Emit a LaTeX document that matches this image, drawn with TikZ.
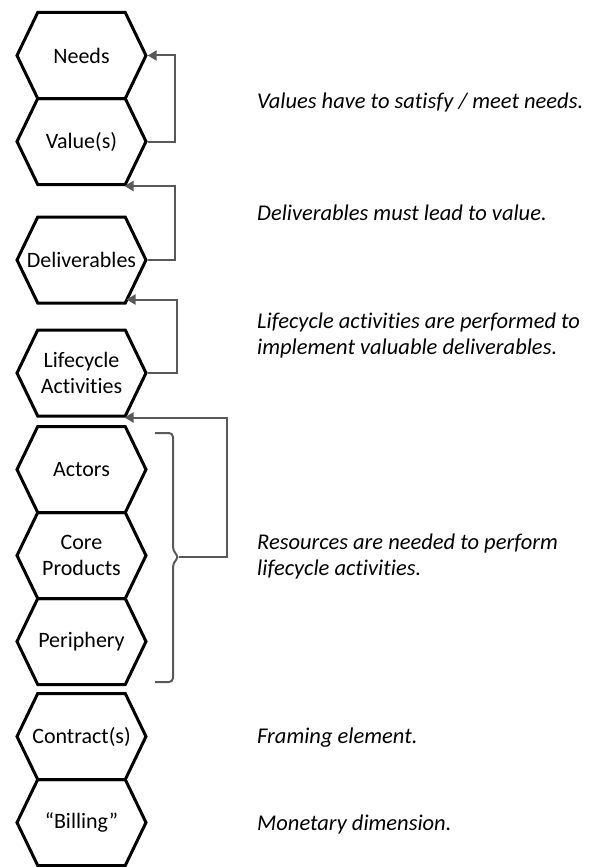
\documentclass[tikz,border=0pt]{standalone}
\usepackage{fontspec}
\setmainfont{Carlito}[Ligatures={TeX,NoCommon}]
\usepackage{xcolor}
\usetikzlibrary{arrows.meta,shapes.symbols,calc}
\definecolor{linkgray}{HTML}{595959}

\begin{document}
\begin{tikzpicture}[
  x=1pt,
  y=-1pt,
  font=\fontsize{22}{26}\selectfont,
  hexa/.style={
    draw,
    line width=3pt,
    signal,
    signal to=east and west,
    signal pointer angle=128.5,
    text width=87pt,
    minimum width=129pt,
    minimum height=86pt,
    inner sep=0pt,
    align=center
  },
  note/.style={
    anchor=base west,
    align=left,
    inner sep=0pt,
    font=\fontsize{22.5}{26}\selectfont\itshape
  },
  link/.style={
    draw=linkgray,
    line width=2pt,
    -{Triangle[length=9pt,width=10pt]}
  },
  bracket/.style={
    draw=linkgray,
    line width=2pt,
    rounded corners=4pt
  }
]
\useasboundingbox (0,0) rectangle (591,867);

%-----------------------------
% Hexagon chain
%-----------------------------
\node[hexa] (needs)     at (81.5,55.5)  {Needs};
\node[hexa] (value)     at (81.5,141.5) {Value(s)};
\node[hexa] (deliv)     at (81.5,260)   {\makebox[87pt]{Deliverables}};
\node[hexa] (lifecycle) at (81.5,373)   {Lifecycle\\Activities};
\node[hexa] (actors)    at (81.5,469.5) {Actors};
\node[hexa] (core)      at (81.5,555.5) {Core\\Products};
\node[hexa] (periphery) at (81.5,641.5) {\makebox[87pt]{Periphery}};
\node[hexa] (contract)  at (81.5,736.5) {\makebox[87pt]{Contract(s)}};
\node[hexa] (billing)   at (81.5,822.5) {“Billing”};

%-----------------------------
% Resource bracket
%-----------------------------
\draw[bracket] (155,433) -| (173,551) -- (179,557) -- (173,563) |- (155,682);
\coordinate (resnub) at (179,557);

%-----------------------------
% Feedback links
%-----------------------------
\draw[link] (value.east)     -- ++(27,0) |- (needs.east);
\draw[link] (deliv.east)     -- ++(27,0) |- ([xshift=43pt]value.south);
\draw[link] (lifecycle.east) -- ++(29,0) |- ([xshift=45pt,yshift=5pt]deliv.south);
\draw[link] (resnub)         -- ++(48,0) |- ([xshift=43pt]lifecycle.south);

%-----------------------------
% Explanations
%-----------------------------
\node[note] (needsnote)    at (257,108) {Values have to satisfy / meet needs.};
\node[note] (delivnote)    at (257,220) {Deliverables must lead to value.};
\node[note] (lifenote)     at (257,354) {Lifecycle activities are performed to\\implement valuable deliverables.};
\node[note] (resnote)      at (257,575) {Resources are needed to perform\\lifecycle activities.};
\node[note] (contractnote) at (257,743) {Framing element.};
\node[note] (billingnote)  at (257,830) {Monetary dimension.};

\end{tikzpicture}
\end{document}
